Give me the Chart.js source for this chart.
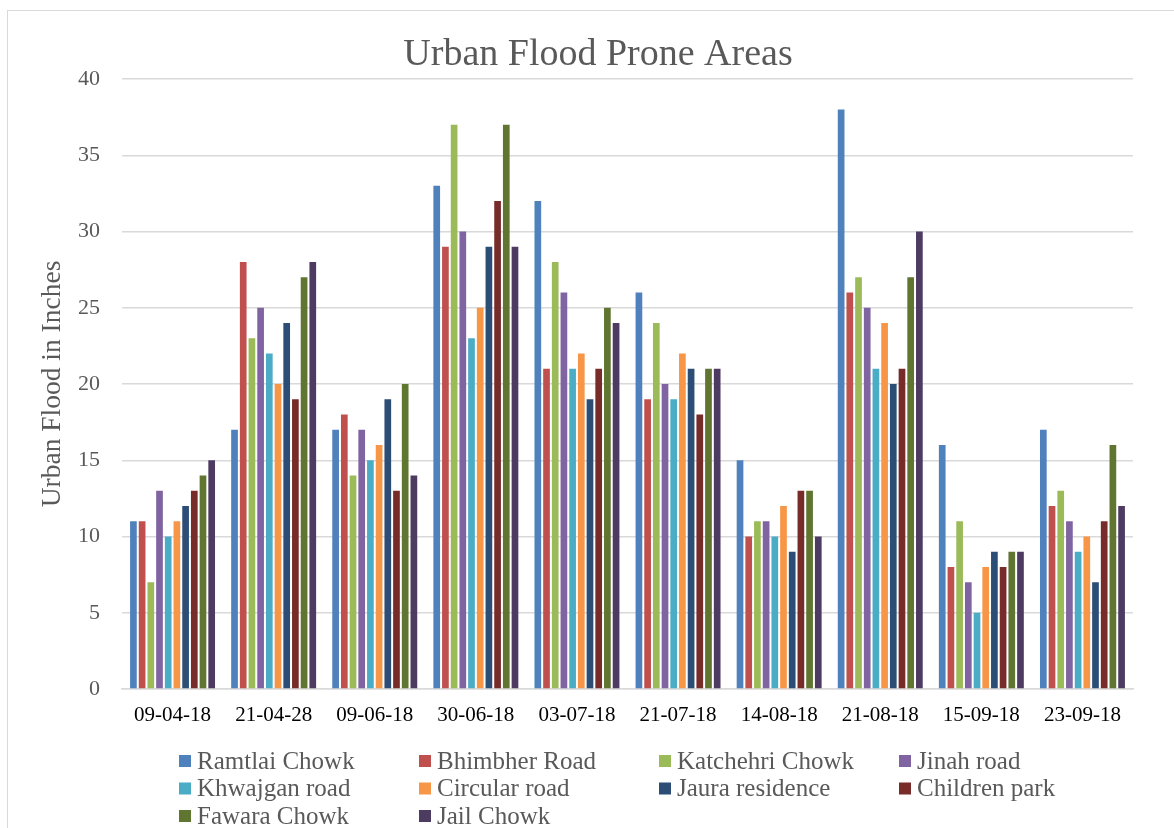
<!DOCTYPE html>
<html>
<head>
<meta charset="utf-8">
<script src="https://cdn.jsdelivr.net/npm/chart.js@4"></script>
<style>
  html, body { margin: 0; padding: 0; background: #ffffff; overflow: hidden; }
  #frame { position: absolute; left: 7px; top: 10px; width: 1170px; height: 830px; border: 1.5px solid #d9d9d9; box-sizing: border-box; }
  #c { position: absolute; left: 0; top: 0; }
</style>
</head>
<body>
<div id="frame"></div>
<canvas id="c" width="1174" height="828"></canvas>
<script>
const chartTitle = "Urban Flood Prone Areas";
const yAxisTitle = "Urban Flood in Inches";
const categories = ["09-04-18", "21-04-28", "09-06-18", "30-06-18", "03-07-18", "21-07-18", "14-08-18", "21-08-18", "15-09-18", "23-09-18"];
const seriesNames = ["Ramtlai Chowk", "Bhimbher Road", "Katchehri Chowk", "Jinah road", "Khwajgan road", "Circular road", "Jaura residence", "Children park", "Fawara Chowk", "Jail Chowk"];
const seriesColors = ["#4F81BD", "#C0504D", "#9BBB59", "#8064A2", "#4BACC6", "#F79646", "#2C4D75", "#772C2A", "#5F7530", "#4D3B62"];

const ramtlaiChowk   = [11, 17, 17, 33, 32, 26, 15, 38, 16, 17];
const bhimbherRoad   = [11, 28, 18, 29, 21, 19, 10, 26, 8, 12];
const katchehriChowk = [7, 23, 14, 37, 28, 24, 11, 27, 11, 13];
const jinahRoad      = [13, 25, 17, 30, 26, 20, 11, 25, 7, 11];
const khwajganRoad   = [10, 22, 15, 23, 21, 19, 10, 21, 5, 9];
const circularRoad   = [11, 20, 16, 25, 22, 22, 12, 24, 8, 10];
const jauraResidence = [12, 24, 19, 29, 19, 21, 9, 20, 9, 7];
const childrenPark   = [13, 19, 13, 32, 21, 18, 13, 21, 8, 11];
const fawaraChowk    = [14, 27, 20, 37, 25, 21, 13, 27, 9, 16];
const jailChowk      = [15, 28, 14, 29, 24, 21, 10, 30, 9, 12];

const seriesValues = [ramtlaiChowk, bhimbherRoad, katchehriChowk, jinahRoad, khwajganRoad, circularRoad, jauraResidence, childrenPark, fawaraChowk, jailChowk];
const yTicks = [0, 5, 10, 15, 20, 25, 30, 35, 40];

const SERIF = "'Liberation Serif', 'DejaVu Serif', serif";

const customTitleLegend = {
  id: 'customTitleLegend',
  afterDraw(chart) {
    const ctx = chart.ctx;
    ctx.save();
    ctx.fillStyle = '#595959';
    ctx.font = "38px " + SERIF;
    ctx.textAlign = 'center';
    ctx.textBaseline = 'middle';
    ctx.fillText(chartTitle, 598, 55);

    ctx.font = "25px " + SERIF;
    ctx.textAlign = 'left';
    chart.data.datasets.forEach((ds, i) => {
      const col = i % 4, row = Math.floor(i / 4);
      const bx = 179 + col * 240;
      const by = 761 + row * 27.5;
      ctx.fillStyle = ds.backgroundColor;
      ctx.fillRect(bx, by - 6, 12, 12);
      ctx.fillStyle = '#595959';
      ctx.fillText(ds.label, bx + 18, by + 1);
    });
    ctx.restore();
  }
};

new Chart(document.getElementById('c'), {
  type: 'bar',
  data: {
    labels: categories,
    datasets: seriesNames.map((name, i) => ({
      label: name,
      data: seriesValues[i],
      backgroundColor: seriesColors[i],
      borderWidth: 0,
      categoryPercentage: 0.86,
      barPercentage: 0.77
    }))
  },
  options: {
    responsive: false,
    animation: false,
    layout: { padding: { left: 0, right: 41, top: 79, bottom: 99 } },
    plugins: {
      legend: { display: false },
      title: { display: false },
      tooltip: { enabled: false }
    },
    scales: {
      x: {
        grid: { display: false, drawTicks: false },
        border: { display: true, color: '#d9d9d9', width: 1.5 },
        ticks: { color: '#000000', font: { family: SERIF, size: 21 }, padding: 14, maxRotation: 0, autoSkip: false },
        afterFit(scale) { scale.height = 40; }
      },
      y: {
        min: 0, max: 40,
        afterBuildTicks(scale) { scale.ticks = yTicks.map(v => ({ value: v })); },
        grid: { color: '#d9d9d9', lineWidth: 1.5, drawTicks: false },
        border: { display: false },
        ticks: { color: '#595959', font: { family: SERIF, size: 22 }, padding: 22 },
        title: { display: true, text: yAxisTitle, color: '#595959', font: { family: SERIF, size: 27.5 }, padding: { top: 36, bottom: 0 } },
        afterFit(scale) { scale.width = 122; }
      }
    }
  },
  plugins: [customTitleLegend]
});
</script>
</body>
</html>
